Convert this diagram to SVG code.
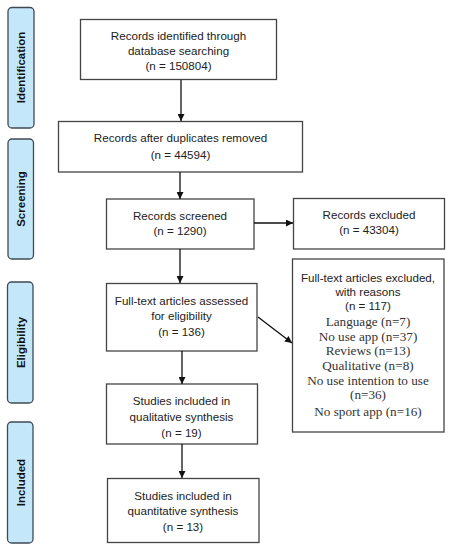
<svg xmlns="http://www.w3.org/2000/svg" width="450" height="550" viewBox="0 0 450 550">
<defs>
<style>
.box{fill:#fff;stroke:#444;stroke-width:1.3}
.lab{fill:#c4e8fa;stroke:#3f4a55;stroke-width:1.3}
.t{font-family:"Liberation Sans",Arial,sans-serif;font-size:11.6px;fill:#222;text-anchor:middle;dominant-baseline:central}
.s{font-family:"Liberation Serif","Times New Roman",serif;font-size:13.2px;fill:#333;text-anchor:middle;dominant-baseline:central}
.v{font-family:"Liberation Sans",Arial,sans-serif;font-size:11.5px;font-weight:bold;fill:#111;text-anchor:middle;dominant-baseline:central}
.c{stroke:#111;stroke-width:1.3;fill:none;marker-end:url(#ah)}
</style>
<marker id="ah" viewBox="0 0 10 10" refX="10" refY="5" markerWidth="7" markerHeight="7" markerUnits="userSpaceOnUse" orient="auto"><path d="M0,0L10,5L0,10z" fill="#111"/></marker>
</defs>
<rect width="450" height="550" fill="#fff"/>
<g id="lab-identification"><rect class="lab" x="8" y="7.5" width="26" height="120.5" rx="4"/><text class="v" transform="translate(21,67.5) rotate(-90)">Identification</text></g>
<g id="lab-screening"><rect class="lab" x="8" y="139" width="25.5" height="120" rx="4"/><text class="v" transform="translate(21,199) rotate(-90)">Screening</text></g>
<g id="lab-eligibility"><rect class="lab" x="7.5" y="282" width="25.5" height="121" rx="4"/><text class="v" transform="translate(20.5,342.5) rotate(-90)">Eligibility</text></g>
<g id="lab-included"><rect class="lab" x="7.5" y="422" width="25.5" height="121" rx="4"/><text class="v" transform="translate(20.5,482.5) rotate(-90)">Included</text></g>

<g id="n1"><rect class="box" x="80.5" y="19.5" width="196" height="60"/><text class="t" x="178.5" y="35">Records identified through</text><text class="t" x="178.5" y="50.5">database searching</text><text class="t" x="178.5" y="65.5">(n = 150804)</text></g>
<g id="n2"><rect class="box" x="58.5" y="121.5" width="244" height="50.5"/><text class="t" x="180.5" y="137.5">Records after duplicates removed</text><text class="t" x="180.5" y="154">(n = 44594)</text></g>
<g id="n3"><rect class="box" x="106.5" y="199" width="147.5" height="50"/><text class="t" x="180" y="215">Records screened</text><text class="t" x="180" y="230">(n = 1290)</text></g>
<g id="n4"><rect class="box" x="293.5" y="198.5" width="151" height="50.5"/><text class="t" x="369" y="214">Records excluded</text><text class="t" x="369" y="229">(n = 43304)</text></g>
<g id="n5"><rect class="box" x="106.5" y="283.5" width="150.5" height="67.5"/><text class="t" x="181.5" y="300">Full-text articles assessed</text><text class="t" x="181.5" y="315">for eligibility</text><text class="t" x="181.5" y="331">(n = 136)</text></g>
<g id="n6"><rect class="box" x="292.5" y="259" width="151.5" height="173"/>
<text class="t" x="368" y="277">Full-text articles excluded,</text>
<text class="t" x="368" y="291">with reasons</text>
<text class="t" x="368" y="305.5">(n = 117)</text>
<text class="s" x="368" y="321.5">Language (n=7)</text>
<text class="s" x="368" y="336">No use app (n=37)</text>
<text class="s" x="368" y="350.5">Reviews (n=13)</text>
<text class="s" x="368" y="365">Qualitative (n=8)</text>
<text class="s" x="368" y="380">No use intention to use</text>
<text class="s" x="368" y="394.5">(n=36)</text>
<text class="s" x="368" y="411">No sport app (n=16)</text></g>
<g id="n7"><rect class="box" x="106.5" y="384" width="151" height="60"/><text class="t" x="181.5" y="400">Studies included in</text><text class="t" x="181.5" y="416">qualitative synthesis</text><text class="t" x="181.5" y="432">(n = 19)</text></g>
<g id="n8"><rect class="box" x="107.5" y="478.5" width="151.5" height="64"/><text class="t" x="183" y="495">Studies included in</text><text class="t" x="183" y="510">quantitative synthesis</text><text class="t" x="183" y="526">(n = 13)</text></g>

<g id="connectors">
<line class="c" x1="181" y1="80" x2="181" y2="121"/>
<line class="c" x1="180" y1="172" x2="180" y2="199"/>
<line class="c" x1="180" y1="249" x2="180" y2="283"/>
<line class="c" x1="254" y1="223" x2="293" y2="223"/>
<line class="c" x1="258" y1="317" x2="292" y2="343"/>
<line class="c" x1="182" y1="351" x2="182" y2="384"/>
<line class="c" x1="182" y1="444" x2="182" y2="478"/>
</g>
</svg>
